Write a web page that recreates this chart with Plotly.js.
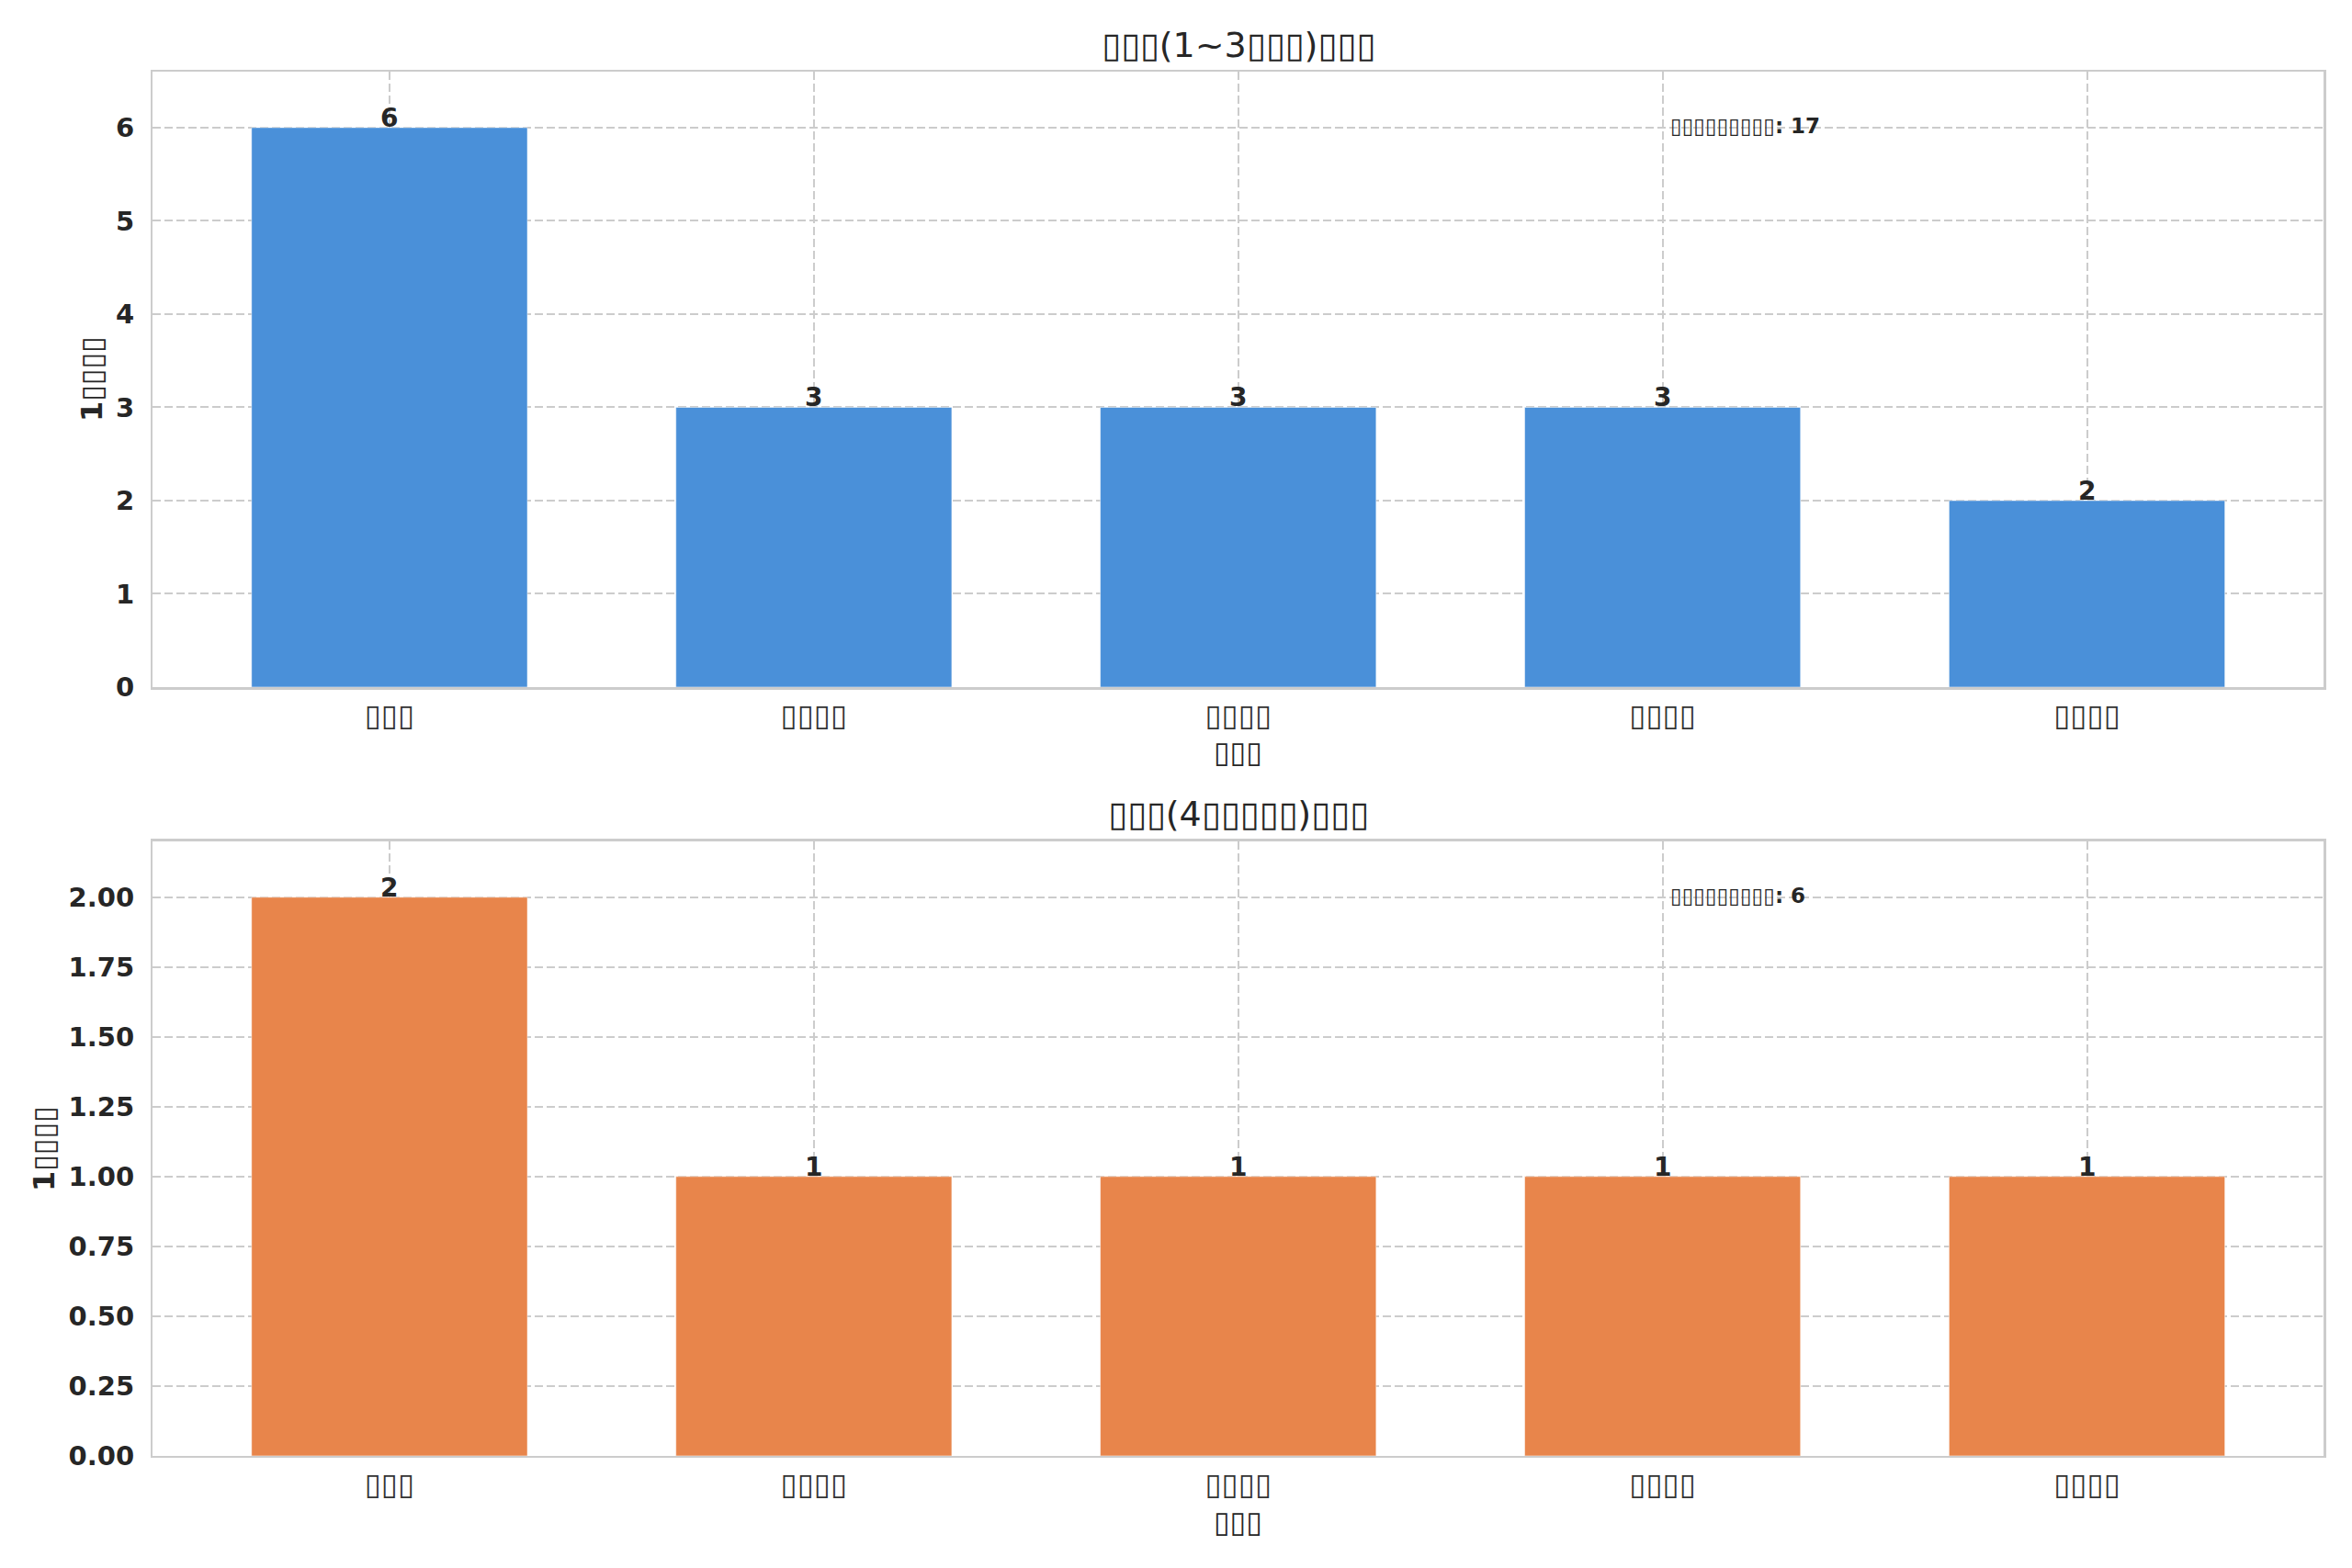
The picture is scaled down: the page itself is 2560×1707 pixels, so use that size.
<!DOCTYPE html>
<html>
<head>
<meta charset="utf-8">
<script src="https://cdn.plot.ly/plotly-3.0.1.min.js"></script>
<style>html,body{margin:0;padding:0;background:#fff;}#chart{width:2560px;height:1707px;}</style>
</head>
<body>
<div id="chart"></div>
<script>
// ---- data ----
const categories = ["▯▯▯", "▯▯▯▯", "▯▯▯▯", "▯▯▯▯", "▯▯▯▯"];
const lowValues = [6, 3, 3, 3, 2];
const highValues = [2, 1, 1, 1, 1];
const titleLow = "▯▯▯(1~3▯▯▯)▯▯▯";
const titleHigh = "▯▯▯(4▯▯▯▯▯)▯▯▯";
const xLabel = "▯▯▯";
const yLabel = "1▯▯▯▯";
const totalLabel = "▯▯▯▯▯▯▯▯▯";
const yTicksLow = [0, 1, 2, 3, 4, 5, 6];
const yTicksHigh = [0, 0.25, 0.5, 0.75, 1, 1.25, 1.5, 1.75, 2];

const sum = a => a.reduce((s, v) => s + v, 0);
const FONT = "DejaVu Sans, sans-serif";
const DARK = "#262626";
const positions = categories.map((_, i) => i);

function barTrace(vals, color, xa, ya) {
  return {
    type: "bar", x: positions, y: vals, xaxis: xa, yaxis: ya,
    width: 0.65,
    marker: {color: color, line: {color: "rgba(255,255,255,0.5)", width: 1}},
    hoverinfo: "none"
  };
}

const traces = [
  barTrace(lowValues, "#4a90d9", "x", "y"),
  barTrace(highValues, "#e8854b", "x2", "y2")
];

const xBase = {
  type: "linear", range: [-0.5575, 4.5575],
  tickmode: "array", tickvals: positions, ticktext: categories,
  showgrid: true, gridcolor: "#cccccc", gridwidth: 2, griddash: "9px,4px",
  showline: true, mirror: true, linecolor: "#cccccc", linewidth: 2.5,
  ticks: "", ticklabelstandoff: 0,
  tickfont: {family: FONT, size: 33, color: "#333333"},
  zeroline: false, fixedrange: true
};
const yBase = {
  showgrid: true, gridcolor: "#cccccc", gridwidth: 2, griddash: "9px,4px",
  showline: true, mirror: true, linecolor: "#cccccc", linewidth: 2.5,
  ticks: "", ticklabelstandoff: 12,
  tickfont: {family: FONT, size: 29, color: DARK, weight: "bold"},
  zeroline: false, fixedrange: true, tickmode: "array"
};

const maxLow = Math.max(...lowValues), maxHigh = Math.max(...highValues);

function valueLabels(vals, xr, yr) {
  return vals.map((v, i) => ({
    text: String(v), x: positions[i], y: v, xref: xr, yref: yr,
    xanchor: "center", yanchor: "bottom", yshift: -8, showarrow: false,
    font: {family: FONT, size: 28, color: DARK, weight: "bold"}
  }));
}

const layout = {
  width: 2560, height: 1707,
  margin: {l: 0, r: 0, t: 0, b: 0},
  paper_bgcolor: "#ffffff", plot_bgcolor: "#ffffff",
  showlegend: false,
  font: {family: FONT, color: DARK},
  xaxis: Object.assign({}, xBase, {domain: [0.065, 0.9879], anchor: "y"}),
  yaxis: Object.assign({}, yBase, {domain: [0.5618, 0.9543], anchor: "x",
    range: [0, maxLow * 1.1], tickvals: yTicksLow, ticktext: yTicksLow.map(v => String(v))}),
  xaxis2: Object.assign({}, xBase, {domain: [0.065, 0.9879], anchor: "y2"}),
  yaxis2: Object.assign({}, yBase, {domain: [0.0715, 0.4634], anchor: "x2",
    range: [0, maxHigh * 1.1], tickvals: yTicksHigh, ticktext: yTicksHigh.map(v => v.toFixed(2))}),
  annotations: [
    {text: titleLow, xref: "paper", yref: "paper", x: 0.5265, y: 1 - 49 / 1707,
     xanchor: "center", yanchor: "middle", showarrow: false,
     font: {family: FONT, size: 38, color: DARK}},
    {text: titleHigh, xref: "paper", yref: "paper", x: 0.5265, y: 1 - 886 / 1707,
     xanchor: "center", yanchor: "middle", showarrow: false,
     font: {family: FONT, size: 38, color: DARK}},
    {text: xLabel, xref: "paper", yref: "paper", x: 0.5265, y: 1 - 819 / 1707,
     xanchor: "center", yanchor: "middle", showarrow: false,
     font: {family: FONT, size: 32, color: DARK}},
    {text: xLabel, xref: "paper", yref: "paper", x: 0.5265, y: 1 - 1657 / 1707,
     xanchor: "center", yanchor: "middle", showarrow: false,
     font: {family: FONT, size: 32, color: DARK}},
    {text: yLabel, xref: "paper", yref: "paper", x: 100 / 2560, y: 1 - 413 / 1707,
     xanchor: "center", yanchor: "middle", showarrow: false, textangle: -90,
     font: {family: FONT, size: 32, color: DARK, weight: "bold"}},
    {text: yLabel, xref: "paper", yref: "paper", x: 48 / 2560, y: 1 - 1251 / 1707,
     xanchor: "center", yanchor: "middle", showarrow: false, textangle: -90,
     font: {family: FONT, size: 32, color: DARK, weight: "bold"}},
    {text: totalLabel + ": " + sum(lowValues), xref: "paper", yref: "paper",
     x: 1816 / 2560, y: 1 - 137 / 1707, xanchor: "left", yanchor: "middle", showarrow: false,
     font: {family: FONT, size: 23, color: DARK, weight: "bold"}},
    {text: totalLabel + ": " + sum(highValues), xref: "paper", yref: "paper",
     x: 1816 / 2560, y: 1 - 975 / 1707, xanchor: "left", yanchor: "middle", showarrow: false,
     font: {family: FONT, size: 23, color: DARK, weight: "bold"}}
  ].concat(valueLabels(lowValues, "x", "y"), valueLabels(highValues, "x2", "y2"))
};

Plotly.newPlot("chart", traces, layout, {staticPlot: true, displayModeBar: false});
</script>
</body>
</html>
